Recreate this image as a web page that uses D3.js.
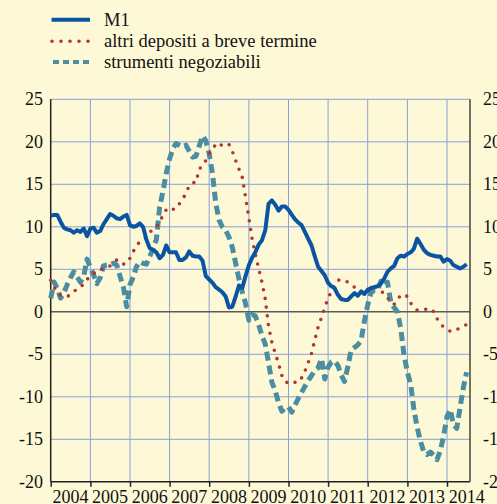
<!DOCTYPE html>
<html lang="it">
<head>
	<meta charset="utf-8">
	<title>M1, altri depositi e strumenti negoziabili</title>
	<script src="https://d3js.org/d3.v7.min.js" charset="utf-8"></script>
	<style>
		body { margin: 0; background: #fdf9d6; }
	</style>
</head>
<body>
<script type="text/javascript">

	// Tick labels (years) and first month of the monthly series
	var years = ["2004", "2005", "2006", "2007", "2008", "2009", "2010", "2011", "2012", "2013", "2014"];
	var firstMonth = "2004-01";
	var yTicks = [-20, -15, -10, -5, 0, 5, 10, 15, 20, 25];

	// Series names
	var seriesNames = ["M1", "altri depositi a breve termine", "strumenti negoziabili"];

	// Monthly values, Jan 2004 - Jul 2014 (percent)
	var m1 = [11.3, 11.4, 11.4, 10.6, 9.9, 9.7, 9.6, 9.3, 9.6, 9.4, 9.8, 8.9,
		9.8, 9.9, 9.3, 9.5, 10.3, 10.9, 11.5, 11.3, 11.0, 10.9, 11.2, 11.4,
		10.2, 10.0, 10.1, 10.4, 10.0, 8.5, 7.5, 7.3, 7.0, 6.3, 6.7, 7.8,
		7.0, 7.0, 7.0, 6.1, 6.1, 6.4, 7.1, 6.6, 6.5, 6.5, 6.0, 4.2,
		3.8, 3.4, 2.9, 2.6, 2.3, 1.8, 0.5, 0.6, 1.8, 3.1, 2.8, 4.2,
		5.5, 6.4, 7.0, 7.9, 8.4, 9.6, 12.7, 13.1, 12.6, 11.9, 12.4, 12.4,
		12.0, 11.4, 10.9, 10.5, 10.2, 9.4, 8.6, 7.8, 6.5, 5.3, 4.8, 4.3,
		3.4, 3.0, 2.8, 2.0, 1.5, 1.4, 1.4, 1.8, 2.2, 1.9, 2.4, 2.1,
		2.6, 2.8, 2.9, 3.0, 3.3, 3.9, 4.7, 5.1, 5.4, 6.3, 6.6, 6.5,
		6.8, 7.0, 7.4, 8.6, 8.0, 7.3, 6.9, 6.7, 6.6, 6.5, 6.5, 5.9,
		6.2, 6.0, 5.5, 5.3, 5.1, 5.3, 5.6];

	var altriDepositi = [3.7, 2.9, 2.3, 1.9, 1.8, 1.8, 2.0, 2.3, 2.8, 3.0, 3.2, 3.8,
		4.2, 4.5, 4.8, 5.0, 5.0, 5.2, 5.4, 5.8, 6.1, 6.0, 5.6, 5.7,
		6.3, 7.1, 7.8, 8.2, 8.4, 8.8, 9.3, 9.8, 10.0, 10.5, 11.4, 12.0,
		12.2, 12.0, 12.6, 12.7, 13.2, 14.0, 14.8, 15.2, 15.2, 16.8, 17.2, 17.8,
		18.6, 19.3, 19.6, 19.9, 19.5, 19.6, 19.7, 18.9, 17.8, 16.8, 15.8, 13.5,
		11.0, 8.5, 6.8, 5.1, 3.5, 1.5, -1.7, -3.6, -4.9, -6.1, -7.5, -8.2,
		-8.4, -8.2, -8.3, -8.3, -7.8, -7.0, -6.0, -4.9, -3.3, -1.8, -0.7, 0.5,
		1.6, 2.4, 3.2, 3.7, 3.8, 3.7, 3.5, 3.2, 2.9, 2.5, 2.2, 2.2,
		2.3, 2.8, 3.0, 2.8, 2.5, 2.1, 1.7, 1.0, 0.9, 1.4, 2.0, 2.0,
		1.8, 1.0, 0.6, 0.2, 0.2, 0.3, 0.3, 0.4, 0.0, -0.8, -1.4, -1.8,
		-2.0, -2.3, -2.3, -2.1, -1.9, -1.7, -1.5];

	var strumenti = [1.6, 3.5, 2.8, 1.6, 2.2, 3.2, 4.0, 4.7, 4.1, 3.5, 4.2, 6.2,
		5.2, 4.3, 3.3, 4.0, 5.4, 5.5, 5.5, 5.7, 5.5, 4.2, 2.9, 0.6,
		3.2, 4.1, 5.3, 5.9, 5.7, 5.6, 6.5, 7.4, 8.5, 12.3, 14.2, 16.3,
		18.0, 19.2, 19.8, 19.6, 19.4, 19.6, 18.9, 18.2, 18.3, 19.5, 20.7, 20.1,
		18.6, 16.2, 12.8, 10.8, 10.0, 9.6, 8.8, 7.6, 5.7, 3.9, 2.3, 1.0,
		-1.0, -0.3, -0.5, -1.5, -2.8, -3.8, -6.0, -8.3, -9.3, -10.7, -11.7, -11.3,
		-11.2, -11.8, -11.0, -10.2, -9.5, -8.8, -8.1, -7.5, -6.9, -6.6, -5.5, -7.9,
		-6.5, -5.9, -5.8, -6.3, -7.4, -8.2, -6.5, -4.5, -4.2, -3.9, -3.4, -1.1,
		0.8, 2.3, 2.5, 2.5, 3.6, 3.1, 3.5, 1.1, 0.5, 0.0, -2.0, -5.1,
		-7.1, -8.6, -11.4, -13.6, -15.2, -16.5, -16.8, -16.5, -16.9, -17.4, -16.3, -14.6,
		-12.3, -11.5, -13.3, -13.7, -11.3, -8.9, -7.1];

	// Width and height of the page
	var outer_width = 497;
	var outer_height = 504;

	// Plot area edges
	var plot = {left: 50.7, right: 470, top: 99.3, bottom: 481.8};
	var serif = "'Liberation Serif', 'Times New Roman', Times, serif";

	var svg = d3.select("body")
				.append("svg")
				.attr("width", outer_width)
				.attr("height", outer_height)
				.attr("font-family", serif);

	svg.append("rect")
		.attr("width", outer_width)
		.attr("height", outer_height)
		.attr("fill", "#fdf9d6");

	// Scales
	var parseMonth = d3.timeParse("%Y-%m");
	var start = parseMonth(firstMonth);

	var xScale = d3.scaleTime()
					.domain([parseMonth("2004-01"), parseMonth("2014-08")])
					.range([plot.left, plot.right]);

	var yScale = d3.scaleLinear()
					.domain([-20, 25])
					.range([plot.bottom, plot.top]);

	var yearDates = years.map(function(y) { return parseMonth(y + "-01"); });

	// Gridlines
	var grid = svg.append("g")
				.attr("stroke", "#8d9ed8")
				.attr("stroke-width", 1);

	grid.selectAll("line.h")
		.data(yTicks.filter(function(d) { return d !== 0 && d !== -20; }))
		.enter()
			.append("line")
			.attr("class", "h")
			.attr("x1", plot.left)
			.attr("x2", plot.right)
			.attr("y1", function(d) { return yScale(d); })
			.attr("y2", function(d) { return yScale(d); });

	grid.selectAll("line.v")
		.data(yearDates.slice(1))
		.enter()
			.append("line")
			.attr("class", "v")
			.attr("x1", function(d) { return xScale(d); })
			.attr("x2", function(d) { return xScale(d); })
			.attr("y1", plot.top)
			.attr("y2", plot.bottom);

	// Zero line
	svg.append("line")
		.attr("x1", plot.left)
		.attr("x2", plot.right)
		.attr("y1", yScale(0))
		.attr("y2", yScale(0))
		.attr("stroke", "#5a5a5a")
		.attr("stroke-width", 1.6);

	// Bottom axis with year ticks between the labels
	var xAxis = d3.axisBottom(xScale)
				.tickValues(yearDates)
				.tickSize(5)
				.tickFormat("");

	svg.append("g")
		.attr("transform", "translate(0," + plot.bottom + ")")
		.call(xAxis)
		.call(function(g) {
			g.select(".domain").attr("stroke", "#222").attr("stroke-width", 1.5)
				.attr("d", "M" + plot.left + ",0H" + plot.right);
			g.selectAll(".tick line").attr("stroke", "#222").attr("stroke-width", 1.5);
		});

	// Year labels centred in each year
	svg.selectAll("text.year")
		.data(years)
		.enter()
			.append("text")
			.attr("class", "year")
			.attr("x", function(d) { return xScale(parseMonth(d + "-07")); })
			.attr("y", 503)
			.attr("text-anchor", "middle")
			.attr("font-size", 18)
			.attr("fill", "#111")
			.text(function(d) { return d; });

	// Left and right axis lines
	svg.append("line")
		.attr("x1", plot.left).attr("x2", plot.left)
		.attr("y1", plot.top).attr("y2", plot.bottom)
		.attr("stroke", "#222").attr("stroke-width", 1.5);

	svg.append("line")
		.attr("x1", plot.right).attr("x2", plot.right)
		.attr("y1", plot.top).attr("y2", plot.bottom)
		.attr("stroke", "#444").attr("stroke-width", 1.5);

	// Y labels on both sides
	svg.selectAll("text.yl")
		.data(yTicks)
		.enter()
			.append("text")
			.attr("class", "yl")
			.attr("x", 43)
			.attr("y", function(d) { return yScale(d) + 6; })
			.attr("text-anchor", "end")
			.attr("font-size", 18)
			.attr("fill", "#111")
			.text(function(d) { return d; });

	svg.selectAll("text.yr")
		.data(yTicks)
		.enter()
			.append("text")
			.attr("class", "yr")
			.attr("x", 483)
			.attr("y", function(d) { return yScale(d) + 6; })
			.attr("text-anchor", "start")
			.attr("font-size", 18)
			.attr("fill", "#111")
			.text(function(d) { return d; });

	// Series styles
	var styles = [
		{values: m1, color: "#0a55a3", width: 4, dash: null, cap: "butt"},
		{values: altriDepositi, color: "#b1362f", width: 3.6, dash: "0 8.8", cap: "round"},
		{values: strumenti, color: "#4b8da2", width: 5, dash: "9 5", cap: "butt"}
	];

	var line = d3.line()
				.x(function(d, i) { return xScale(d3.timeMonth.offset(start, i)); })
				.y(function(d) { return yScale(d); });

	// Draw the strumenti first, then altri depositi, then M1 on top
	[2, 1, 0].forEach(function(k) {
		var s = styles[k];
		svg.append("path")
			.datum(s.values)
			.attr("d", line)
			.attr("fill", "none")
			.attr("stroke", s.color)
			.attr("stroke-width", s.width)
			.attr("stroke-dasharray", s.dash)
			.attr("stroke-linecap", s.cap)
			.attr("stroke-linejoin", "round");
	});

	// Legend
	var legend = svg.append("g");
	var legendY = [19.7, 41.3, 62];
	var legendDash = [null, "0 9", "6 4"];

	seriesNames.forEach(function(name, i) {
		legend.append("line")
			.attr("x1", i === 1 ? 52 : (i === 2 ? 53 : 51.5))
			.attr("x2", 90)
			.attr("y1", legendY[i])
			.attr("y2", legendY[i])
			.attr("stroke", styles[i].color)
			.attr("stroke-width", i === 1 ? 3.6 : 4)
			.attr("stroke-dasharray", legendDash[i])
			.attr("stroke-linecap", styles[i].cap);

		legend.append("text")
			.attr("x", 104)
			.attr("y", legendY[i] + 6)
			.attr("font-size", 18.5)
			.attr("fill", "#111")
			.text(name);
	});

</script>
</body>
</html>
